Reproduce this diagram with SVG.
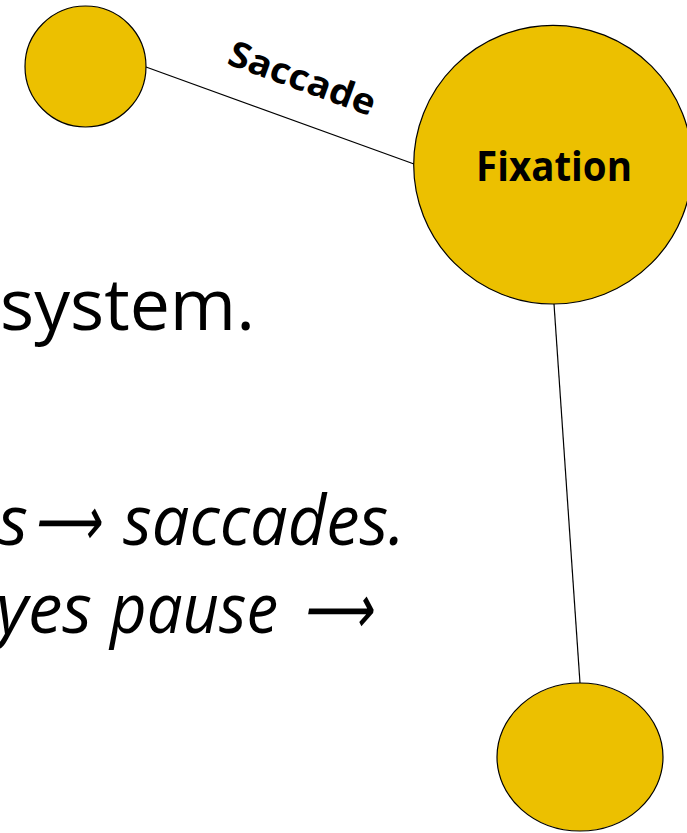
<svg xmlns="http://www.w3.org/2000/svg" width="687" height="833" viewBox="0 0 687 833">
<style>
.node{fill:#ECC000;stroke:#000;stroke-width:1.2}
.edge{stroke:#000;stroke-width:1.2;fill:none}
.lbl{font-family:"Open Sans","Noto Sans",sans-serif;font-weight:bold;fill:#000}
.body{font-family:"Open Sans","Noto Sans",sans-serif;fill:#000}
.it{font-family:"Open Sans","Noto Sans",sans-serif;font-style:italic;font-size:69px;fill:#000}
</style>
<rect width="687" height="833" fill="#fff"/>
<g id="text">
<text class="body" x="0" y="330" font-size="71" textLength="255" lengthAdjust="spacingAndGlyphs">system.</text>
<text class="it" x="28" y="545" text-anchor="end">s</text>
<text class="it" x="33" y="545" textLength="67" lengthAdjust="spacingAndGlyphs">⟶</text>
<text class="it" x="123" y="545" textLength="282" lengthAdjust="spacingAndGlyphs">saccades.</text>
<text class="it" x="92" y="633" text-anchor="end">yes</text>
<text class="it" x="110" y="633" textLength="168" lengthAdjust="spacingAndGlyphs">pause</text>
<text class="it" x="302" y="633" textLength="70" lengthAdjust="spacingAndGlyphs">⟶</text>
</g>
<g id="connectors">
<line class="edge" x1="146" y1="67" x2="414" y2="164"/>
<line class="edge" x1="554" y1="304" x2="580" y2="683"/>
<text class="lbl" font-size="36" transform="translate(298,90) rotate(20)" text-anchor="middle" textLength="154" lengthAdjust="spacingAndGlyphs">Saccade</text>
</g>
<g id="node-start">
<circle class="node" cx="85.5" cy="66.5" r="60.5"/>
</g>
<g id="node-fixation">
<circle class="node" cx="553" cy="164.7" r="139.3"/>
<text class="lbl" x="476" y="181" font-size="42" textLength="156" lengthAdjust="spacingAndGlyphs">Fixation</text>
</g>
<g id="node-end">
<ellipse class="node" cx="580" cy="757" rx="83" ry="74"/>
</g>
</svg>
